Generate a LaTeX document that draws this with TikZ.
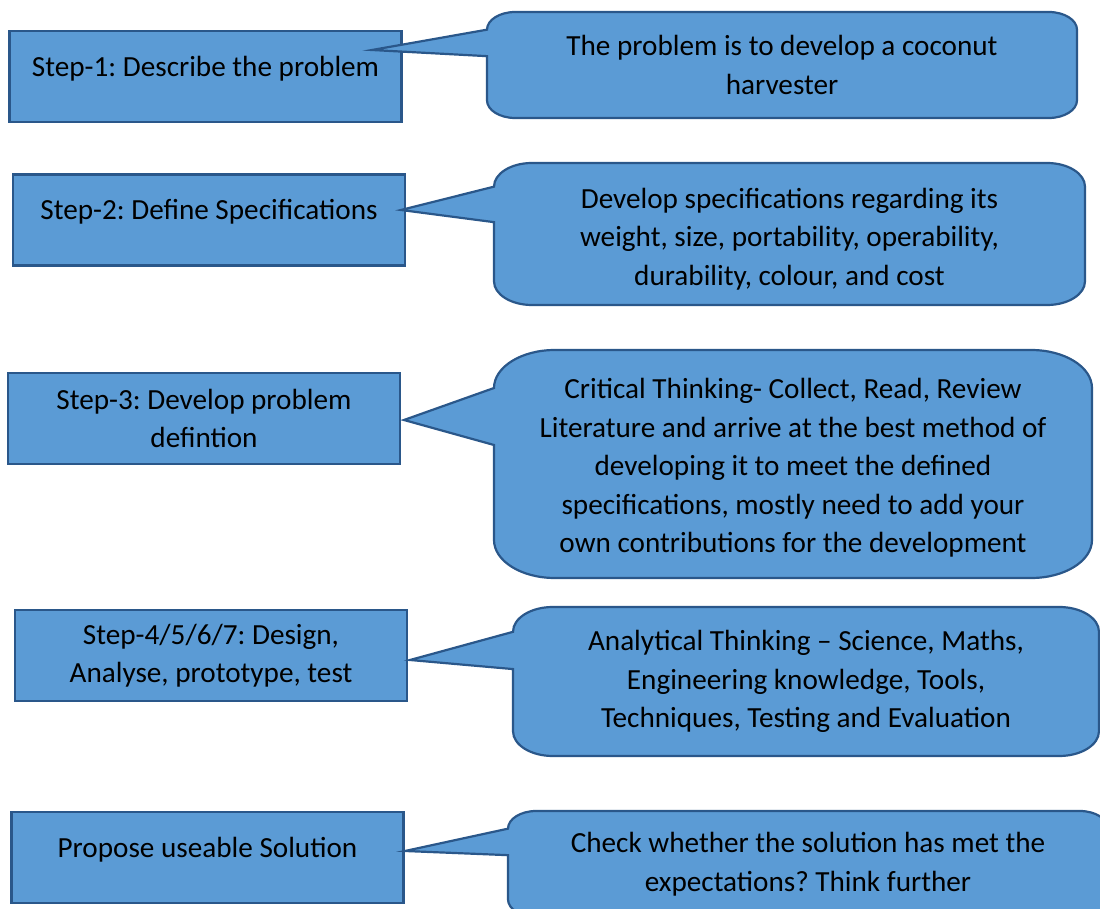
\documentclass[tikz,border=0pt]{standalone}
\usepackage{fontspec}
\setmainfont{Carlito}
\usepackage{tikz}
\usepackage{xcolor}
\frenchspacing
\definecolor{boxblue}{RGB}{91,155,213}
\definecolor{lineblue}{RGB}{42,87,138}
\tikzstyle{stepbox}=[draw=lineblue,fill=boxblue,line width=1.1pt,minimum width=196pt,minimum height=45.5pt,inner sep=0pt,align=center,font=\fontsize{14.6}{19}\selectfont]
\tikzstyle{oneline}=[text depth=10.5pt]
\tikzstyle{bubble}=[draw=lineblue,fill=boxblue,line width=1.1pt]
\tikzstyle{bubbletext}=[align=center,inner sep=0pt,font=\fontsize{14.6}{19.3}\selectfont]
% #1 text shift, #2 name, #3 left, #4 top, #5 right, #6 bottom, #7 tip, #8 text
\newcommand{\bubble}[8][0]{%
  \pgfmathsetmacro\bH{#6-#4}%
  \pgfmathsetmacro\bRy{\bH/6}%
  \pgfmathsetmacro\bRx{1.6*\bRy}%
  \pgfmathsetmacro\bYa{#4+\bH/6}%
  \pgfmathsetmacro\bYb{#4+5*\bH/12}%
  \draw[bubble] (#3,\bYb) -- (#7) -- (#3,\bYa)
    -- (#3,#4+\bRy) .. controls (#3,#4+0.448*\bRy) and (#3+0.448*\bRx,#4) .. (#3+\bRx,#4)
    -- (#5-\bRx,#4) .. controls (#5-0.448*\bRx,#4) and (#5,#4+0.448*\bRy) .. (#5,#4+\bRy)
    -- (#5,#6-\bRy) .. controls (#5,#6-0.448*\bRy) and (#5-0.448*\bRx,#6) .. (#5-\bRx,#6)
    -- (#3+\bRx,#6) .. controls (#3+0.448*\bRx,#6) and (#3,#6-0.448*\bRy) .. (#3,#6-\bRy)
    -- cycle;
  \node[bubbletext] (#2) at ({(#3+#5)/2},{(#4+#6)/2+#1}) {#8};
}

\begin{document}
\begin{tikzpicture}[x=0.5pt,y=-0.5pt]
  \useasboundingbox (0,0) rectangle (1100,909);

  % STEPS
  \node[stepbox,oneline] (s1) at (205.5,76.5) {Step-1: Describe the problem};
  \node[stepbox,oneline] (s2) at (209,220)    {Step-2: Define Specifications};
  \node[stepbox]         (s3) at (204,418.5)  {Step-3: Develop problem\\defintion};
  \node[stepbox]         (s4) at (211,655.5)  {Step-4/5/6/7: Design,\\Analyse, prototype, test};
  \node[stepbox,oneline] (s5) at (207.5,857.5) {Propose useable Solution};

  % TIPS
  \coordinate (p1) at (372,50);
  \coordinate (p2) at (401,210);
  \coordinate (p3) at (404,420);
  \coordinate (p4) at (410,660);
  \coordinate (p5) at (405,851);

  % CALLOUTS
  \bubble{c1}{487}{12}{1077}{118}{p1}{The problem is to develop a coconut\\harvester}
  \bubble[5]{c2}{494}{163}{1085}{305}{p2}{Develop specifications regarding its\\weight, size, portability, operability,\\durability, colour, and cost}
  \bubble[4]{c3}{494}{350}{1092}{578}{p3}{Critical Thinking- Collect, Read, Review\\Literature and arrive at the best method of\\developing it to meet the defined\\specifications, mostly need to add your\\own contributions for the development}
  \bubble{c4}{513}{607}{1099}{756}{p4}{Analytical Thinking – Science, Maths,\\Engineering knowledge, Tools,\\Techniques, Testing and Evaluation}
  \bubble{c5}{508}{811}{1108}{917}{p5}{Check whether the solution has met the\\expectations? Think further}

\end{tikzpicture}
\end{document}
